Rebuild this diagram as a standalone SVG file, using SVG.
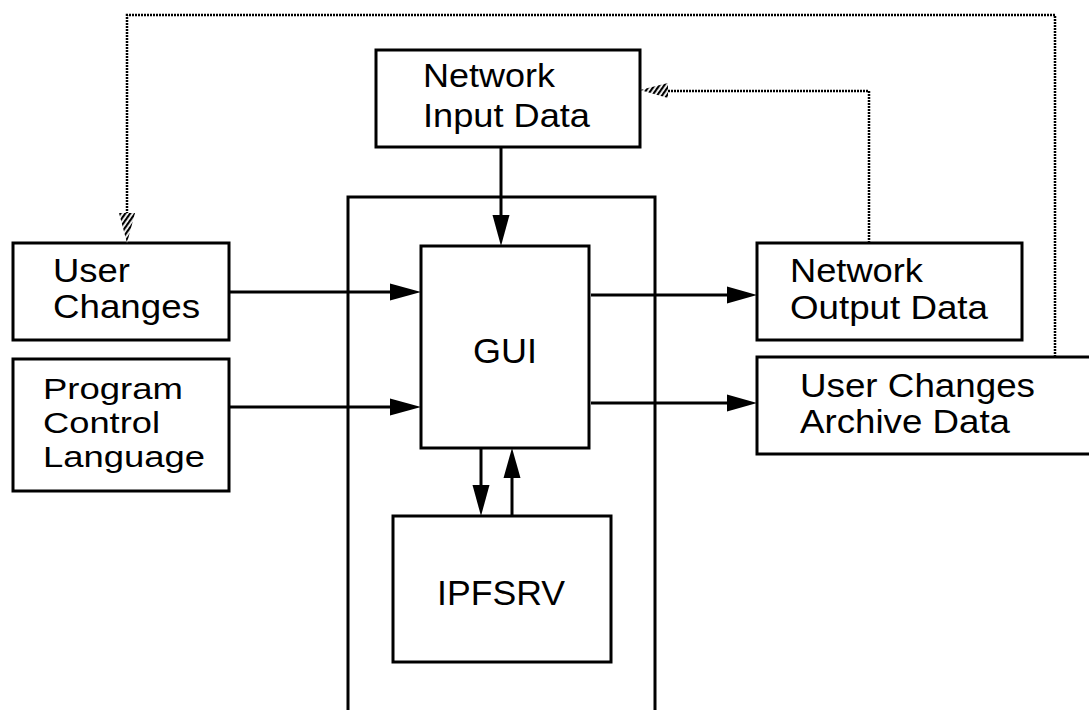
<svg xmlns="http://www.w3.org/2000/svg" width="1089" height="710" viewBox="0 0 1089 710">
  <style>
    .box { fill: #fff; stroke: #000; stroke-width: 3; }
    .frame { fill: none; stroke: #000; stroke-width: 3; }
    .flow { fill: none; stroke: #000; stroke-width: 3; }
    .head { fill: #000; stroke: none; }
    .dotted { fill: none; stroke: #000; stroke-width: 2.5; stroke-dasharray: 2 1; }
    .hatch { fill: url(#stripes); stroke: none; }
    .label { font-family: "Liberation Sans", Arial, sans-serif; font-size: 33px; fill: #000; }
    .big { font-size: 35px; }
    .tight { font-size: 29px; }
  </style>
  <defs>
    <pattern id="stripes" patternUnits="userSpaceOnUse" width="4" height="4" patternTransform="rotate(35)">
      <rect x="0" y="0" width="4" height="4" fill="#fff"/>
      <rect x="0" y="0" width="2.2" height="4" fill="#000"/>
    </pattern>
  </defs>

  <rect width="1089" height="710" fill="#fff"/>

  <!-- enclosing frame around GUI and IPFSRV -->
  <path class="frame" d="M348 712 V197 H655 V712"/>

  <g id="network-input">
    <rect class="box" x="376" y="50" width="264" height="97"/>
    <text class="label" x="423" y="87" textLength="132" lengthAdjust="spacingAndGlyphs">Network</text>
    <text class="label" x="423" y="127" textLength="167" lengthAdjust="spacingAndGlyphs">Input Data</text>
  </g>

  <g id="user-changes">
    <rect class="box" x="13" y="243" width="216" height="97"/>
    <text class="label" x="53" y="282" textLength="77" lengthAdjust="spacingAndGlyphs">User</text>
    <text class="label" x="53" y="318" textLength="147" lengthAdjust="spacingAndGlyphs">Changes</text>
  </g>

  <g id="program-control">
    <rect class="box" x="13" y="359" width="216" height="132"/>
    <text class="label tight" x="43" y="399" textLength="140" lengthAdjust="spacingAndGlyphs">Program</text>
    <text class="label tight" x="43" y="433" textLength="117" lengthAdjust="spacingAndGlyphs">Control</text>
    <text class="label tight" x="43" y="467" textLength="162" lengthAdjust="spacingAndGlyphs">Language</text>
  </g>

  <g id="gui">
    <rect class="box" x="421" y="246" width="168" height="202"/>
    <text class="label big" x="473" y="363" textLength="64" lengthAdjust="spacingAndGlyphs">GUI</text>
  </g>

  <g id="ipfsrv">
    <rect class="box" x="393" y="516" width="218" height="146"/>
    <text class="label big" x="437" y="605" textLength="128" lengthAdjust="spacingAndGlyphs">IPFSRV</text>
  </g>

  <g id="network-output">
    <rect class="box" x="757" y="243" width="265" height="97"/>
    <text class="label" x="790" y="282" textLength="133" lengthAdjust="spacingAndGlyphs">Network</text>
    <text class="label" x="790" y="319" textLength="198" lengthAdjust="spacingAndGlyphs">Output Data</text>
  </g>

  <g id="archive">
    <rect class="box" x="757" y="357" width="340" height="97"/>
    <text class="label" x="800" y="397" textLength="235" lengthAdjust="spacingAndGlyphs">User Changes</text>
    <text class="label" x="800" y="433" textLength="210" lengthAdjust="spacingAndGlyphs">Archive Data</text>
  </g>

  <g id="connectors">
    <!-- Network Input Data -> GUI -->
    <line class="flow" x1="501" y1="147" x2="501" y2="216"/>
    <polygon class="head" points="492.5,215 509.5,215 501,246"/>

    <!-- User Changes -> GUI -->
    <line class="flow" x1="229" y1="292" x2="391" y2="292"/>
    <polygon class="head" points="390,283.5 390,300.5 421,292"/>

    <!-- Program Control Language -> GUI -->
    <line class="flow" x1="229" y1="407" x2="391" y2="407"/>
    <polygon class="head" points="390,398.5 390,415.5 421,407"/>

    <!-- GUI -> Network Output Data -->
    <line class="flow" x1="591" y1="295" x2="728" y2="295"/>
    <polygon class="head" points="727,286.5 727,303.5 757,295"/>

    <!-- GUI -> User Changes Archive Data -->
    <line class="flow" x1="591" y1="403" x2="728" y2="403"/>
    <polygon class="head" points="727,394.5 727,411.5 757,403"/>

    <!-- GUI -> IPFSRV -->
    <line class="flow" x1="481" y1="448" x2="481" y2="486"/>
    <polygon class="head" points="472.5,485 489.5,485 481,516"/>

    <!-- IPFSRV -> GUI -->
    <line class="flow" x1="512" y1="516" x2="512" y2="477"/>
    <polygon class="head" points="503.5,478 520.5,478 512,448"/>

    <!-- Network Output Data feeds back to Network Input Data -->
    <polyline class="dotted" points="869,243 869,91 668,91"/>
    <polygon class="hatch" points="668,83 668,98 640,90"/>

    <!-- Archive data feeds back to User Changes -->
    <polyline class="dotted" points="1055,357 1055,15 127,15 127,214"/>
    <polygon class="hatch" points="119,213 135,213 127,243"/>
  </g>
</svg>
